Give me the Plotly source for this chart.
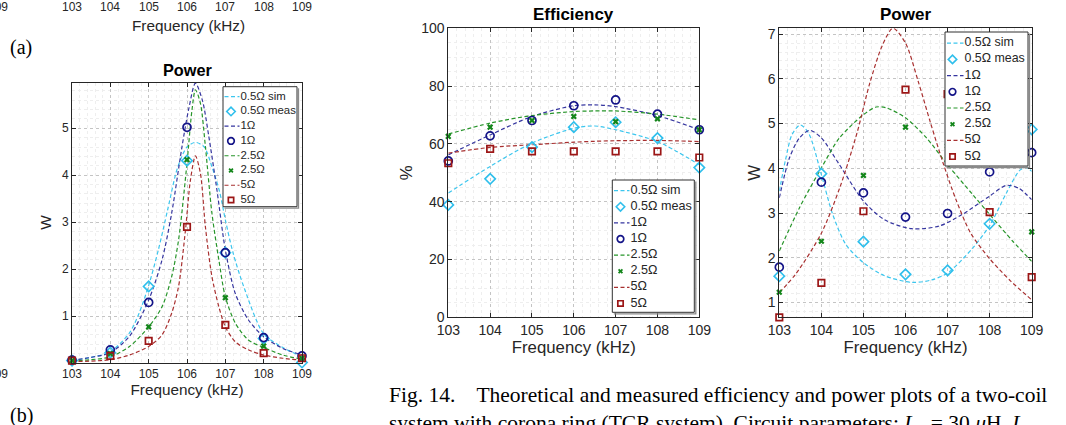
import plotly.graph_objects as go

W, H = 1066, 425
FONT = "Liberation Sans"
SERIF = "Liberation Serif"
TXT = "#262626"

# ---------------- data ----------------
freq = [103, 104, 105, 106, 107, 108, 109]

# (b) left "Power" plot : simulated curves
b_sim05_f = [103, 103.5, 104, 104.5, 104.75, 105, 105.25, 105.5, 105.75, 106, 106.22, 106.45, 106.65, 106.85, 107, 107.2, 107.5, 108, 108.5, 109]
b_sim05_p = [0.05, 0.12, 0.24, 0.64, 1.06, 1.65, 2.40, 3.28, 4.15, 4.60, 4.70, 4.60, 4.18, 3.65, 3.05, 2.35, 1.58, 0.62, 0.33, 0.13]
b_sim1_f = [103, 103.5, 104, 104.5, 105, 105.35, 105.6, 105.87, 106.04, 106.22, 106.4, 106.57, 106.78, 107, 107.26, 107.6, 108, 108.5, 109]
b_sim1_p = [0.06, 0.12, 0.22, 0.57, 1.34, 2.20, 3.19, 4.61, 5.39, 5.96, 5.60, 4.82, 3.69, 2.41, 1.48, 0.92, 0.56, 0.31, 0.17]
b_sim25_f = [103, 103.5, 104, 104.5, 105, 105.35, 105.6, 105.78, 106.0, 106.13, 106.22, 106.35, 106.48, 106.65, 106.83, 107, 107.26, 107.6, 108, 108.5, 109]
b_sim25_p = [0.04, 0.07, 0.13, 0.35, 0.77, 1.20, 1.84, 2.62, 4.26, 5.39, 5.82, 5.53, 4.61, 3.19, 2.20, 1.41, 0.85, 0.49, 0.33, 0.17, 0.08]
b_sim5_f = [103, 103.5, 104, 104.5, 105, 105.35, 105.6, 105.78, 105.96, 106.09, 106.22, 106.35, 106.48, 106.65, 106.83, 107, 107.26, 107.6, 108, 108.5, 109]
b_sim5_p = [0.03, 0.04, 0.07, 0.17, 0.35, 0.60, 1.06, 1.63, 2.83, 3.90, 4.41, 4.04, 2.90, 1.84, 1.20, 0.77, 0.45, 0.28, 0.17, 0.10, 0.06]
# (b) measured
b_meas05 = [0.05, 0.22, 1.63, 4.31, 2.35, 0.52, 0.01]
b_meas1 = [0.06, 0.28, 1.29, 5.02, 2.35, 0.54, 0.15]
b_meas25 = [0.05, 0.20, 0.77, 4.33, 1.39, 0.36, 0.10]
b_meas5 = [0.05, 0.15, 0.47, 2.90, 0.81, 0.21, 0.10]

# Fig. 14 "Efficiency" : simulated curves
e_sim_f = [103, 104, 105, 106, 106.5, 107, 108, 109]
e_sim05 = [43.0, 52.2, 60.3, 65.4, 66.2, 64.9, 60.8, 52.8]
e_sim1 = [56.2, 63.1, 69.5, 73.2, 73.5, 72.9, 69.8, 64.9]
e_sim25 = [63.4, 67.2, 69.8, 71.2, 71.4, 71.4, 70.3, 68.3]
e_sim5 = [56.8, 58.8, 59.7, 60.6, 60.9, 61.1, 61.2, 60.8]
# measured
e_meas05 = [38.9, 47.9, 58.9, 65.8, 67.5, 62.0, 51.8]
e_meas1 = [54.1, 62.8, 68.1, 73.2, 75.2, 70.3, 64.9]
e_meas25 = [62.6, 65.8, 68.1, 69.5, 67.7, 68.7, 64.9]
e_meas5 = [53.3, 58.3, 57.4, 57.4, 57.4, 57.4, 55.3]

# Fig. 14 "Power" : simulated curves
p_sim05_f = [103, 103.15, 103.3, 103.5, 103.7, 104, 104.27, 104.58, 105, 105.5, 106.15, 106.6, 107, 107.6, 108, 108.4, 108.72, 108.88, 109]
p_sim05_p = [3.49, 4.20, 4.75, 4.97, 4.78, 3.86, 2.97, 2.30, 1.89, 1.60, 1.45, 1.50, 1.66, 2.22, 2.72, 3.45, 3.96, 4.02, 3.93]
p_sim1_f = [103, 103.24, 103.48, 103.72, 104, 104.43, 105, 105.5, 106.15, 106.8, 107.35, 108, 108.4, 108.7, 109]
p_sim1_p = [3.34, 4.23, 4.68, 4.85, 4.68, 4.08, 3.27, 2.85, 2.65, 2.71, 2.97, 3.38, 3.62, 3.55, 3.30]
p_sim25_f = [103, 103.48, 104, 104.43, 105, 105.3, 105.55, 106, 106.5, 107, 107.6, 108, 108.55, 109]
p_sim25_p = [2.15, 3.12, 4.01, 4.68, 5.20, 5.37, 5.35, 5.13, 4.68, 4.08, 3.41, 2.97, 2.37, 1.92]
p_sim5_f = [103, 103.4, 104, 104.45, 104.85, 105.15, 105.45, 105.7, 106.0, 106.3, 106.6, 106.9, 107.2, 107.55, 108, 108.5, 109]
p_sim5_p = [1.22, 1.65, 2.55, 3.60, 4.80, 5.90, 6.75, 7.13, 6.80, 5.95, 5.00, 4.10, 3.30, 2.55, 1.98, 1.48, 1.06]
# measured
p_meas05 = [1.59, 3.88, 2.36, 1.63, 1.72, 2.76, 4.87]
p_meas1 = [1.79, 3.69, 3.45, 2.91, 2.99, 3.92, 4.35]
p_meas25 = [1.23, 2.37, 3.84, 4.92, 4.50, 4.30, 2.58]
p_meas5 = [0.67, 1.44, 3.04, 5.76, 5.66, 3.02, 1.57]

x_ticks = [103, 104, 105, 106, 107, 108, 109]
legend_labels = ["0.5Ω sim", "0.5Ω meas", "1Ω", "1Ω", "2.5Ω", "2.5Ω", "5Ω", "5Ω"]

# ---------------- styles ----------------
CYAN, NAVY, GREEN, DRED = "#2fbfec", "#141488", "#13861a", "#9c1616"
SIMCOL = {"05": "#3cc6ee", "1": "#35359f", "25": "#27952a", "5": "#a83030"}
MARK = {
    "05": dict(symbol="diamond-open", size=8, color=CYAN, line=dict(color=CYAN, width=1.6)),
    "1": dict(symbol="circle-open", size=8, color=NAVY, line=dict(color=NAVY, width=1.7)),
    "25": dict(symbol="x", size=5.5, color=GREEN, line=dict(width=0)),
    "5": dict(symbol="square-open", size=6.5, color=DRED, line=dict(color=DRED, width=1.7)),
}
DASH = "4px,2.5px"


def px_x(v):
    return v / W


def px_y(v):
    return 1 - v / H


fig = go.Figure()


def add_panel(xa, ya, sims, meas):
    for key, (fx, fy) in sims.items():
        fig.add_trace(go.Scatter(x=fx, y=fy, mode="lines", xaxis=xa, yaxis=ya,
                                 line=dict(color=SIMCOL[key], width=1.2, dash=DASH, shape="spline", smoothing=0.8),
                                 showlegend=False, hoverinfo="skip"))
    for key, vals in meas.items():
        fig.add_trace(go.Scatter(x=freq, y=vals, mode="markers", xaxis=xa, yaxis=ya,
                                 marker=MARK[key], cliponaxis=False, showlegend=False, hoverinfo="skip"))


add_panel("x", "y",
          {"05": (b_sim05_f, b_sim05_p), "1": (b_sim1_f, b_sim1_p), "25": (b_sim25_f, b_sim25_p), "5": (b_sim5_f, b_sim5_p)},
          {"05": b_meas05, "1": b_meas1, "25": b_meas25, "5": b_meas5})
add_panel("x2", "y2",
          {"05": (e_sim_f, e_sim05), "1": (e_sim_f, e_sim1), "25": (e_sim_f, e_sim25), "5": (e_sim_f, e_sim5)},
          {"05": e_meas05, "1": e_meas1, "25": e_meas25, "5": e_meas5})
add_panel("x3", "y3",
          {"05": (p_sim05_f, p_sim05_p), "1": (p_sim1_f, p_sim1_p), "25": (p_sim25_f, p_sim25_p), "5": (p_sim5_f, p_sim5_p)},
          {"05": p_meas05, "1": p_meas1, "25": p_meas25, "5": p_meas5})

# ---------------- legends (MATLAB style boxes, drawn on a pixel overlay axis) ----------------
ENTRY_KEYS = [("sim", "05"), ("meas", "05"), ("sim", "1"), ("meas", "1"),
              ("sim", "25"), ("meas", "25"), ("sim", "5"), ("meas", "5")]


def add_legend(box, row0, dy, line_span, mark_x, text_x, fsize):
    x0, y0, x1, y1 = box
    fig.add_trace(go.Scatter(x=[x0 + 1.5, x1 + 1.5, x1 + 1.5], y=[y1 + 1.5, y1 + 1.5, y0 + 1.5], mode="lines",
                             line=dict(color="#8a8a8a", width=1.3), xaxis="x4", yaxis="y4",
                             showlegend=False, hoverinfo="skip"))
    fig.add_trace(go.Scatter(x=[x0, x1, x1, x0, x0], y=[y0, y0, y1, y1, y0], mode="lines", fill="toself",
                             fillcolor="white", line=dict(color="#303030", width=1), xaxis="x4", yaxis="y4",
                             showlegend=False, hoverinfo="skip"))
    for i, (kind, key) in enumerate(ENTRY_KEYS):
        yc = row0 + i * dy
        if kind == "sim":
            fig.add_trace(go.Scatter(x=list(line_span), y=[yc, yc], mode="lines", xaxis="x4", yaxis="y4",
                                     line=dict(color=SIMCOL[key], width=1.2, dash=DASH),
                                     showlegend=False, hoverinfo="skip"))
        else:
            mk = dict(MARK[key])
            mk["size"] = mk["size"] * 0.82
            fig.add_trace(go.Scatter(x=[mark_x], y=[yc], mode="markers", xaxis="x4", yaxis="y4",
                                     marker=mk, showlegend=False, hoverinfo="skip"))
        fig.add_trace(go.Scatter(x=[text_x], y=[yc], mode="text", text=[legend_labels[i]],
                                 textposition="middle right", xaxis="x4", yaxis="y4",
                                 textfont=dict(family=FONT, size=fsize, color=TXT),
                                 showlegend=False, hoverinfo="skip"))


add_legend((223, 86.7, 297, 206.7), 96.7, 14.76, (224.5, 239.5), 231, 240.5, 11.4)
add_legend((612.3, 180, 694.3, 312.3), 190.7, 16.1, (614, 629.5), 620.5, 630.5, 12.6)
add_legend((945, 32, 1028, 166), 43.2, 16.2, (947, 963.5), 952.5, 964.5, 12.4)


# ---------------- axes ----------------
def axis(domain, rng, dtick, mdtick, title, tsize, fsize, standoff, anchor):
    return dict(domain=domain, range=rng, dtick=dtick, tick0=0, anchor=anchor,
                showline=True, linecolor=TXT, linewidth=1, mirror="ticks",
                ticks="inside", ticklen=4, tickcolor=TXT,
                tickfont=dict(family=FONT, size=tsize, color=TXT),
                showgrid=True, gridcolor="#c4c4c4", griddash="dot", gridwidth=1,
                minor=dict(dtick=mdtick, showgrid=True, gridcolor="#eeeeee", gridwidth=1, ticks=""),
                zeroline=False, automargin=False, fixedrange=True,
                title=dict(text=title, font=dict(family=FONT, size=fsize, color=TXT), standoff=standoff))


dom_b_x = [px_x(72), px_x(302)]
dom_b_y = [px_y(362.5), px_y(82.7)]
dom_e_x = [px_x(448.3), px_x(699.3)]
dom_p_x = [px_x(779.3), px_x(1031.7)]
dom_ep_y = [px_y(317.3), px_y(28.3)]

fig.update_layout(
    width=W, height=H, margin=dict(l=0, r=0, t=0, b=0),
    paper_bgcolor="white", plot_bgcolor="rgba(0,0,0,0)", showlegend=False,
    xaxis=axis(dom_b_x, [103, 109], 1, 0.2, "Frequency (kHz)", 12, 15.3, 3, "y"),
    yaxis=axis(dom_b_y, [0.01, 5.97], 1, 0.2, "W", 12, 15.3, 6, "x"),
    xaxis2=axis(dom_e_x, [103, 109], 1, 0.2, "Frequency (kHz)", 14, 16.8, 3, "y2"),
    yaxis2=axis(dom_ep_y, [0, 100], 20, 5, "%", 14, 16.8, 4, "x2"),
    xaxis3=axis(dom_p_x, [103, 109], 1, 0.2, "Frequency (kHz)", 14, 16.8, 3, "y3"),
    yaxis3=axis(dom_ep_y, [0.67, 7.13], 1, 0.2, "W", 14, 16.8, 2, "x3"),
    xaxis4=dict(domain=[0, 1], range=[0, W], visible=False, fixedrange=True, anchor="y4"),
    yaxis4=dict(domain=[0, 1], range=[H, 0], visible=False, fixedrange=True, anchor="x4"),
)

ann = []
# panel titles
ann.append(dict(text="<b>Power</b>", x=px_x(187.5), y=px_y(70), font=dict(family=FONT, size=16.3, color="black")))
ann.append(dict(text="<b>Efficiency</b>", x=px_x(573), y=px_y(15), font=dict(family=FONT, size=17, color="black")))
ann.append(dict(text="<b>Power</b>", x=px_x(905), y=px_y(15), font=dict(family=FONT, size=17, color="black")))
# fragment of the panel above (a)
for t in x_ticks:
    ann.append(dict(text=str(t), xref="x", x=t, y=px_y(7), font=dict(family=FONT, size=12, color=TXT)))
ann.append(dict(text="Frequency (kHz)", x=px_x(188), y=px_y(25), font=dict(family=FONT, size=15.3, color=TXT)))
ann.append(dict(text="109", x=px_x(10), xanchor="right", y=px_y(7), font=dict(family=FONT, size=12, color=TXT)))
ann.append(dict(text="109", x=px_x(10), xanchor="right", y=px_y(374), font=dict(family=FONT, size=12, color=TXT)))
ann.append(dict(text="(a)", x=px_x(21), y=px_y(47), font=dict(family=SERIF, size=20, color="black")))
ann.append(dict(text="(b)", x=px_x(21), y=px_y(415), font=dict(family=SERIF, size=20, color="black")))
# caption
ann.append(dict(text="Fig. 14.&nbsp;&nbsp;&nbsp; Theoretical and measured efficiency and power plots of a two-coil",
                x=px_x(387), xanchor="left", y=px_y(395), font=dict(family=SERIF, size=21.5, color="black")))
ann.append(dict(text="system with corona ring (TCR system). Circuit parameters: <i>L</i><sub>T</sub> = 30 <i>μ</i>H, <i>L</i><sub>R</sub>",
                x=px_x(387), xanchor="left", y=px_y(424), font=dict(family=SERIF, size=21.5, color="black")))
for a in ann:
    a.setdefault("xref", "paper")
    a["yref"] = "paper"
    a["showarrow"] = False
    a.setdefault("xanchor", "center")
    a["yanchor"] = "middle"
fig.update_layout(annotations=ann)

fig.write_html("out.html")
